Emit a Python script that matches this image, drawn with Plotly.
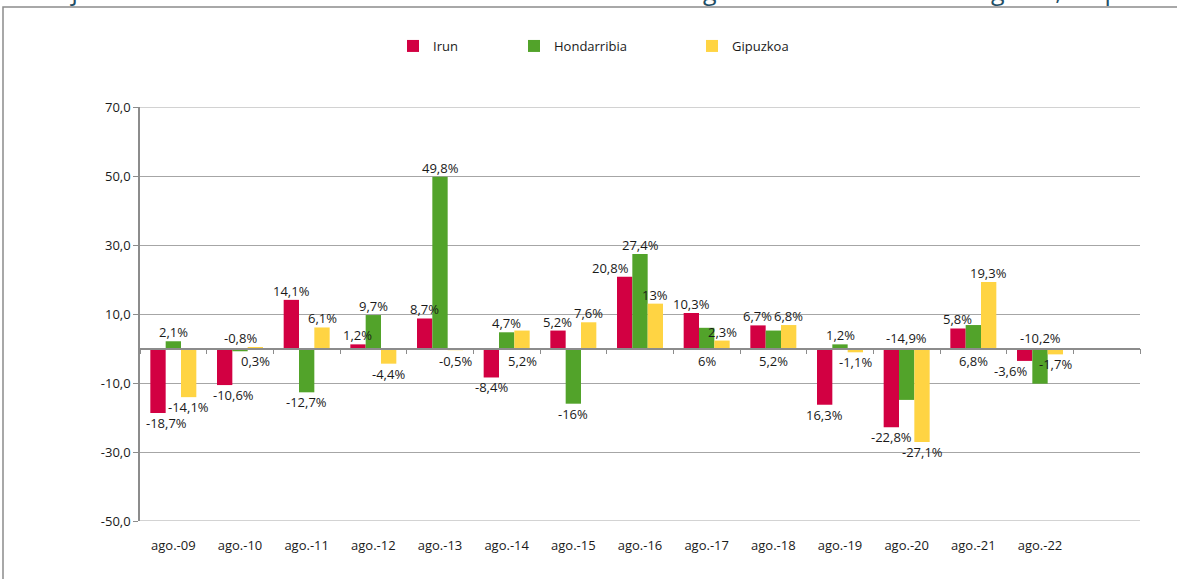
import plotly.graph_objects as go

# ---------------- data ----------------
categories = ['ago.-09', 'ago.-10', 'ago.-11', 'ago.-12', 'ago.-13', 'ago.-14', 'ago.-15',
              'ago.-16', 'ago.-17', 'ago.-18', 'ago.-19', 'ago.-20', 'ago.-21', 'ago.-22']

irun = [-18.7, -10.6, 14.1, 1.2, 8.7, -8.4, 5.2, 20.8, 10.3, 6.7, -16.3, -22.8, 5.8, -3.6]
hondarribia = [2.1, -0.8, -12.7, 9.7, 49.8, 4.7, -16.0, 27.4, 6.0, 5.2, 1.2, -14.9, 6.8, -10.2]
gipuzkoa = [-14.1, 0.3, 6.1, -4.4, -0.5, 5.2, 7.6, 13.0, 2.3, 6.8, -1.1, -27.1, 19.3, -1.7]

irun_text = ['-18,7%', '-10,6%', '14,1%', '1,2%', '8,7%', '-8,4%', '5,2%', '20,8%', '10,3%',
             '6,7%', '16,3%', '-22,8%', '5,8%', '-3,6%']
hond_text = ['2,1%', '-0,8%', '-12,7%', '9,7%', '49,8%', '4,7%', '-16%', '27,4%', '6%',
             '5,2%', '1,2%', '-14,9%', '6,8%', '-10,2%']
gip_text = ['-14,1%', '0,3%', '6,1%', '-4,4%', '-0,5%', '5,2%', '7,6%', '13%', '2,3%',
            '6,8%', '-1,1%', '-27,1%', '19,3%', '-1,7%']

y_tickvals = [-50, -30, -10, 10, 30, 50, 70]
y_ticktext = ['-50,0', '-30,0', '-10,0', '10,0', '30,0', '50,0', '70,0']

series_names = ['Irun', 'Hondarribia', 'Gipuzkoa']

title_left = 'Porcentaje de variación interanual de los contratos laborales registrados en el mes de'
title_right = 'agosto, respecto al año anterior'

# label placement styles (out = beyond bar end, up0 = above zero line, dn0 = below zero line)
irun_pos = ['outR', 'outR', 'out', 'out', 'out', 'out', 'out', 'outL', 'out', 'out', 'out', 'out', 'out', 'outL']
hond_pos = ['out', 'up0', 'out', 'out', 'out', 'out', 'out', 'out', 'dn0', 'dn0', 'out', 'up0', 'dn0', 'up0']
gip_pos = ['out', 'dn0', 'out', 'out', 'dn0', 'dn0', 'out', 'out', 'out', 'out', 'out', 'out', 'out', 'out']

# ---------------- style / layout ----------------
colors = ['#D20042', '#52A32A', '#FFD443']
FONT = 'Open Sans'
W, H = 1177, 579
ML, MR, MT, MB = 140, 37, 107, 58
PW, PH = W - ML - MR, H - MT - MB
YMIN, YMAX = -50, 70
NSLOTS = len(categories) + 1
BARGAP = 0.31
GRID = '#A6A6A6'
AXIS = '#8C8C8C'


def px_x(px):
    return (px - ML) / PW


def px_y(py):
    return (H - MB - py) / PH


fig = go.Figure()
all_vals = [irun, hondarribia, gipuzkoa]
all_text = [irun_text, hond_text, gip_text]
all_pos = [irun_pos, hond_pos, gip_pos]
legends = ['legend', 'legend2', 'legend3']

for name, vals, col, lg in zip(series_names, all_vals, colors, legends):
    fig.add_trace(go.Bar(
        x=categories, y=vals, name=name, marker=dict(color=col, line=dict(width=0)),
        legend=lg, hoverinfo='skip'))

slot_px = PW / NSLOTS
bar_w = slot_px * (1 - BARGAP) / 3
annotations = []
for si, (vals, texts, poss) in enumerate(zip(all_vals, all_text, all_pos)):
    xoff = (si - 1) * bar_w
    for cat, v, t, p in zip(categories, vals, texts, poss):
        if p.startswith('out'):
            yv = v
            ys = 9 if v >= 0 else -10
        elif p == 'up0':
            yv = 0
            ys = 11
        else:
            yv = 0
            ys = -12
        xs = xoff + {'outL': -14, 'outR': 9}.get(p, 0)
        annotations.append(dict(
            x=cat, y=yv, xref='x', yref='y', text=t, showarrow=False,
            xshift=xs, yshift=ys, xanchor='center', yanchor='middle',
            font=dict(family=FONT, size=13, color='#1a1a1a')))

# cropped title line at very top (only its lower edge is visible, as in the reference)
title_col = '#1F4E66'
for txt, xpx, anc in [(title_left, 966, 'right'), (title_right, 975, 'left')]:
    annotations.append(dict(
        x=px_x(xpx), y=px_y(9), xref='paper', yref='paper', showarrow=False,
        xanchor=anc, yanchor='bottom', text=txt,
        font=dict(family=FONT, size=25, color=title_col)))

leg_y = px_y(46)
leg_common = dict(orientation='h', yanchor='middle', xanchor='left', y=leg_y,
                  font=dict(family=FONT, size=13, color='#1a1a1a'),
                  bgcolor='rgba(0,0,0,0)', itemwidth=30)

shapes = [dict(type='rect', xref='paper', yref='paper',
               x0=px_x(3), x1=px_x(1250), y0=px_y(650), y1=px_y(7),
               line=dict(color=AXIS, width=1.5), layer='below')]
# gridlines at the two ends of the value axis
for yv in (YMIN, YMAX):
    shapes.append(dict(type='line', xref='paper', yref='y', x0=0, x1=1, y0=yv, y1=yv,
                       line=dict(color=GRID, width=1), layer='below'))

fig.update_layout(
    width=W, height=H,
    margin=dict(l=ML, r=MR, t=MT, b=MB, pad=0),
    paper_bgcolor='white', plot_bgcolor='white',
    barmode='group', bargap=BARGAP, bargroupgap=0,
    showlegend=True,
    legend=dict(x=px_x(393), **leg_common),
    legend2=dict(x=px_x(514), **leg_common),
    legend3=dict(x=px_x(692), **leg_common),
    font=dict(family=FONT, size=13, color='#1a1a1a'),
    annotations=annotations,
    xaxis=dict(
        type='category', categoryorder='array', categoryarray=categories + [' '],
        range=[-0.5, NSLOTS - 0.5], anchor='free',
        position=(0 - YMIN) / (YMAX - YMIN),
        showline=True, linecolor=AXIS, linewidth=1.5,
        ticks='outside', ticklen=5, tickcolor=AXIS, tickwidth=1.2,
        tickson='boundaries', showgrid=False, zeroline=False,
        ticklabelstandoff=185,
        tickfont=dict(family=FONT, size=13, color='#1a1a1a')),
    yaxis=dict(
        range=[YMIN, YMAX], tickmode='array', tickvals=y_tickvals, ticktext=y_ticktext,
        showgrid=True, gridcolor=GRID, gridwidth=1,
        showline=True, linecolor=AXIS, linewidth=1.5,
        ticks='outside', ticklen=5, tickcolor=AXIS, tickwidth=1.2,
        zeroline=False,
        tickfont=dict(family=FONT, size=13, color='#1a1a1a')),
    shapes=shapes,
)

fig.write_html(
    "out.html",
    config={'displayModeBar': False},
    post_script="document.body.style.margin='0';document.body.style.padding='0';"
                "document.body.style.overflow='hidden';")
